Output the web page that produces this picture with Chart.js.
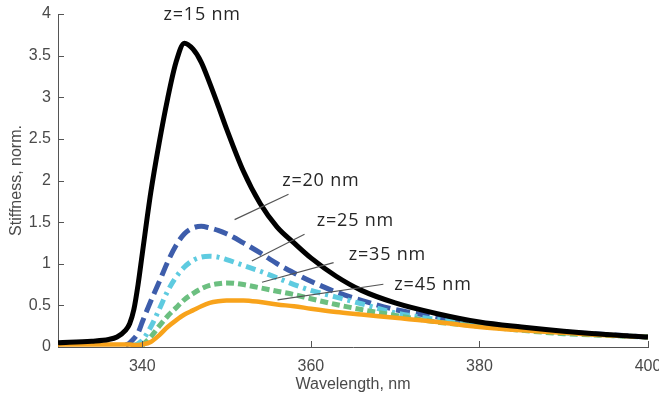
<!DOCTYPE html>
<html>
<head>
<meta charset="utf-8">
<script src="https://cdn.jsdelivr.net/npm/chart.js@4/dist/chart.umd.min.js"></script>
<style>
  html, body { margin: 0; padding: 0; background: #ffffff; }
  #wrap { width: 659px; height: 403px; }
</style>
</head>
<body>
<div id="wrap"><canvas id="c" width="659" height="403"></canvas></div>
<script>
// Wavelength grid (nm) shared by all curves
const wavelength = [330, 334, 336, 337, 338, 338.5, 339, 339.5, 340, 341, 342, 343, 344, 345, 346, 347, 348, 349, 350,
                    352, 354, 356, 358, 360, 363, 366, 370, 375, 380, 385, 390, 395, 400];

// Normalized stiffness for each tip-sample distance z
const z15 = [0.05, 0.07, 0.09, 0.12, 0.20, 0.28, 0.45, 0.75, 1.12, 1.85, 2.45, 2.98, 3.42, 3.65, 3.58, 3.42, 3.17, 2.90, 2.62,
             2.11, 1.72, 1.44, 1.25, 1.07, 0.85, 0.68, 0.53, 0.40, 0.30, 0.24, 0.19, 0.15, 0.12];
const z20 = [null, null, null, null, 0.02, 0.05, 0.10, 0.17, 0.30, 0.55, 0.78, 1.02, 1.22, 1.36, 1.43, 1.45, 1.43, 1.40, 1.36,
             1.25, 1.13, 1.00, 0.89, 0.79, 0.66, 0.56, 0.45, 0.36, 0.28, 0.22, 0.18, 0.15, 0.12];
const z25 = [null, null, null, null, null, null, 0.02, 0.04, 0.08, 0.24, 0.45, 0.67, 0.84, 0.96, 1.04, 1.08, 1.09, 1.08, 1.05,
             0.98, 0.91, 0.83, 0.75, 0.68, 0.60, 0.52, 0.41, 0.33, 0.27, 0.21, 0.17, 0.14, 0.12];
const z35 = [null, null, null, null, null, null, null, null, 0.02, 0.12, 0.25, 0.37, 0.47, 0.57, 0.64, 0.70, 0.74, 0.76, 0.77,
             0.75, 0.71, 0.67, 0.63, 0.58, 0.51, 0.45, 0.38, 0.30, 0.25, 0.20, 0.16, 0.14, 0.12];
const z45 = [0.03, 0.03, 0.03, 0.03, 0.03, 0.03, 0.025, 0.025, 0.03, 0.06, 0.14, 0.24, 0.32, 0.39, 0.44, 0.49, 0.53, 0.55, 0.56,
             0.56, 0.54, 0.51, 0.49, 0.46, 0.42, 0.39, 0.35, 0.30, 0.24, 0.20, 0.17, 0.14, 0.12];

// Axis ticks
const xTicks = [340, 360, 380, 400];
const yTicks = [0, 0.5, 1, 1.5, 2, 2.5, 3, 3.5, 4];

// Curve labels: text, text anchor (data units), leader line ends (data units)
const curveLabels = [
  { text: 'z=15 nm', at: [347.1, 3.99], align: 'center', line: null },
  { text: 'z=20 nm', at: [356.6, 2.00], align: 'left', line: [[350.95, 1.53], [357.35, 1.835]] },
  { text: 'z=25 nm', at: [360.7, 1.51], align: 'left', line: [[353.0, 1.034], [359.25, 1.355]] },
  { text: 'z=35 nm', at: [364.5, 1.105], align: 'left', line: [[354.2, 0.778], [362.7, 1.013]] },
  { text: 'z=45 nm', at: [369.9, 0.745], align: 'left', line: [[356.05, 0.565], [368.6, 0.754]] }
];

const toPoints = ys => wavelength.map((x, i) => ({ x: x, y: ys[i] }));

const AXIS = '#555555';
const TEXT = '#4a4a4a';
const AXIS_FONT = { family: '"Liberation Sans", Arial, sans-serif', size: 16 };

// Inward tick marks on both axes
const innerTicks = {
  id: 'innerTicks',
  afterDatasetsDraw(chart) {
    const { ctx, chartArea, scales } = chart;
    ctx.save();
    ctx.strokeStyle = AXIS;
    ctx.lineWidth = 1;
    ctx.beginPath();
    scales.x.ticks.forEach(t => {
      const px = Math.round(scales.x.getPixelForValue(t.value)) + 0.5;
      ctx.moveTo(px, chartArea.bottom);
      ctx.lineTo(px, chartArea.bottom - 6);
    });
    scales.y.ticks.forEach(t => {
      const py = Math.round(scales.y.getPixelForValue(t.value)) + 0.5;
      ctx.moveTo(chartArea.left, py);
      ctx.lineTo(chartArea.left + 6, py);
    });
    ctx.stroke();
    ctx.restore();
  }
};

// Curve labels with leader lines
const curveText = {
  id: 'curveText',
  afterDatasetsDraw(chart) {
    const { ctx, scales } = chart;
    const X = v => scales.x.getPixelForValue(v);
    const Y = v => scales.y.getPixelForValue(v);
    ctx.save();
    ctx.strokeStyle = '#555555';
    ctx.lineWidth = 1.2;
    curveLabels.forEach(l => {
      if (l.line) {
        ctx.beginPath();
        ctx.moveTo(X(l.line[0][0]), Y(l.line[0][1]));
        ctx.lineTo(X(l.line[1][0]), Y(l.line[1][1]));
        ctx.stroke();
      }
    });
    ctx.fillStyle = '#262626';
    ctx.font = '18px "Open Sans", sans-serif';
    if ('letterSpacing' in ctx) ctx.letterSpacing = '0.8px';
    ctx.textBaseline = 'middle';
    curveLabels.forEach(l => {
      ctx.textAlign = l.align;
      ctx.fillText(l.text, X(l.at[0]), Y(l.at[1]));
    });
    ctx.restore();
  }
};

const line = (data, color, dash, order, width) => ({
  data: toPoints(data),
  borderColor: color,
  backgroundColor: color,
  borderWidth: width,
  borderDash: dash,
  borderCapStyle: 'butt',
  borderJoinStyle: 'round',
  pointRadius: 0,
  fill: false,
  cubicInterpolationMode: 'monotone',
  spanGaps: false,
  order: order
});

new Chart(document.getElementById('c'), {
  type: 'line',
  data: {
    datasets: [
      line(z15, '#000000', [], 0, 5),
      line(z20, '#3d5dab', [14, 6], 4, 5),
      line(z25, '#5ecbe0', [10, 5, 3, 5], 3, 5),
      line(z35, '#6cbf80', [8, 4], 2, 5),
      line(z45, '#f8a31b', [], 1, 4.5)
    ]
  },
  options: {
    responsive: false,
    animation: false,
    events: [],
    layout: { padding: { top: 14, right: 11, left: 0, bottom: 0 } },
    plugins: { legend: { display: false }, tooltip: { enabled: false } },
    scales: {
      x: {
        type: 'linear',
        min: 330,
        max: 400,
        afterBuildTicks: s => { s.ticks = xTicks.map(v => ({ value: v })); },
        afterFit: s => { s.height = 56; s.paddingLeft = 0; s.paddingRight = 0; },
        grid: { display: false, drawTicks: false },
        border: { display: true, color: AXIS, width: 1 },
        ticks: {
          padding: 10,
          color: TEXT,
          font: AXIS_FONT,
          maxRotation: 0,
          callback: v => String(v)
        },
        title: {
          display: true,
          text: 'Wavelength, nm',
          color: TEXT,
          font: AXIS_FONT,
          padding: { top: 0, bottom: 9 }
        }
      },
      y: {
        type: 'linear',
        min: 0,
        max: 4,
        afterBuildTicks: s => { s.ticks = yTicks.map(v => ({ value: v })); },
        afterFit: s => { s.width = 58; s.paddingTop = 0; s.paddingBottom = 0; },
        grid: { display: false, drawTicks: false },
        border: { display: true, color: AXIS, width: 1 },
        ticks: {
          padding: 7,
          color: TEXT,
          font: AXIS_FONT,
          callback: v => String(v)
        },
        title: {
          display: true,
          text: 'Stiffness, norm.',
          color: TEXT,
          font: AXIS_FONT,
          padding: { top: 7, bottom: 0 }
        }
      }
    }
  },
  plugins: [innerTicks, curveText]
});
</script>
</body>
</html>
